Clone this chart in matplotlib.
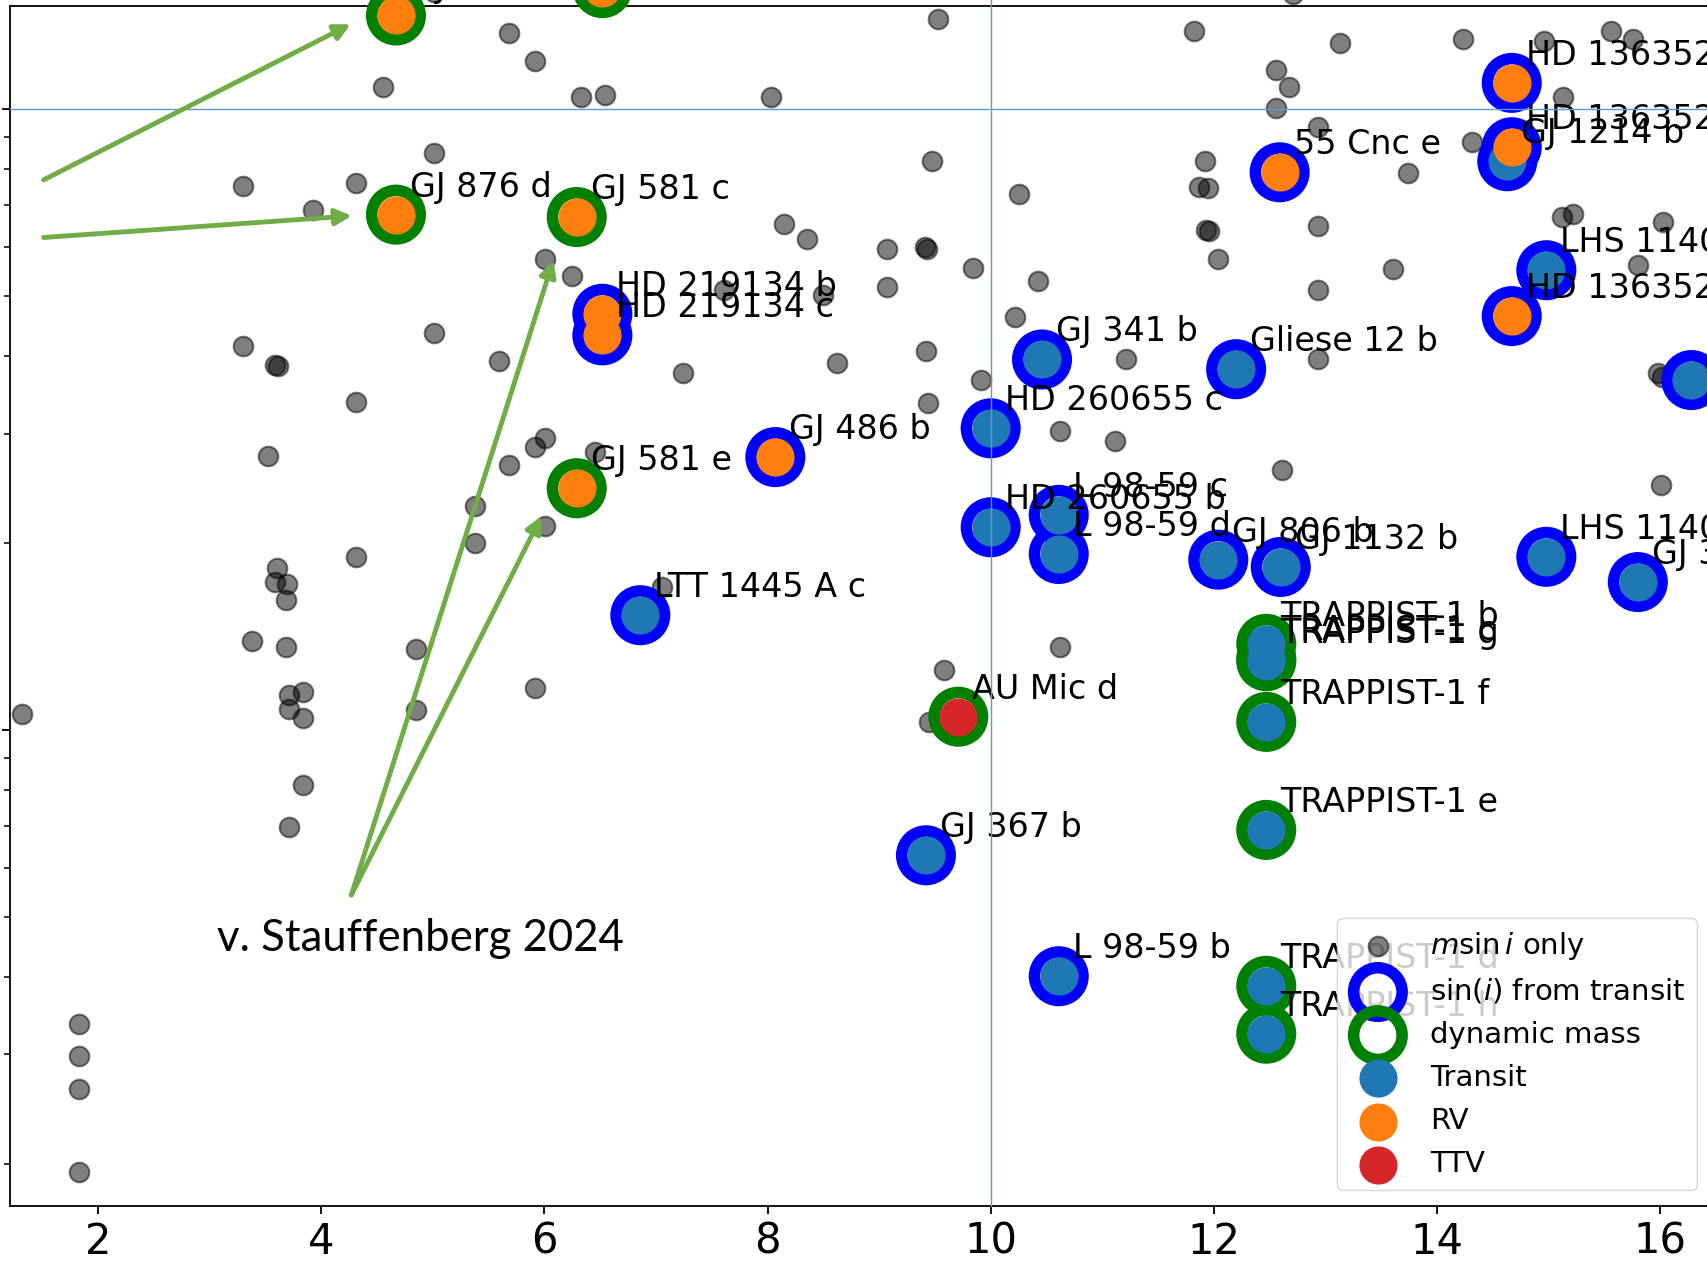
import numpy as np
import matplotlib.pyplot as plt

# planets with only m sin i known: distance [pc], mass [M_earth]
msini_dist = [5.68, 5.92, 4.55, 6.33, 6.54, 8.03, 9.53, 11.82, 13.13, 14.23,
              14.96, 15.56, 15.76, 12.56, 12.67, 12.56, 12.93, 15.13, 12.71, 5.01,
              5.01, 3.30, 4.31, 3.93, 9.47, 10.25, 11.92, 11.87, 11.95, 11.93,
              11.96, 12.04, 12.93, 13.74, 14.31, 15.12, 15.22, 16.03, 15.80, 13.61,
              12.93, 8.15, 8.35, 9.07, 9.41, 9.43, 9.84, 10.42, 9.07, 7.61,
              8.50, 10.22, 6.01, 6.25, 3.30, 3.59, 3.61, 5.01, 5.59, 7.24,
              8.62, 9.42, 11.21, 12.93, 9.91, 9.44, 4.31, 3.52, 5.68, 5.92,
              6.01, 6.45, 10.62, 11.11, 12.61, 16.01, 15.98, 16.02, 5.38, 5.38,
              6.01, 4.31, 3.60, 3.59, 3.69, 3.68, 3.38, 3.68, 4.85, 3.71,
              3.84, 3.71, 3.84, 4.85, 5.92, 9.58, 10.62, 1.32, 3.84, 3.71,
              1.83, 1.83, 1.83, 1.83, 9.45, 7.05]
msini_mass = [13.27, 11.95, 10.84, 10.45, 10.54, 10.45, 13.98, 13.38, 12.79, 12.95,
              12.85, 13.38, 12.95, 11.57, 10.84, 10.04, 9.37, 10.45, 15.35, 15.41,
              8.51, 7.51, 7.60, 6.87, 8.24, 7.30, 8.24, 7.48, 7.45, 6.39,
              6.36, 5.73, 6.49, 7.88, 8.86, 6.70, 6.78, 6.57, 5.61, 5.52,
              5.11, 6.52, 6.18, 5.96, 5.99, 5.94, 5.55, 5.28, 5.16, 5.11,
              5.01, 4.62, 5.73, 5.39, 4.16, 3.87, 3.85, 4.35, 3.93, 3.75,
              3.90, 4.08, 3.95, 3.95, 3.66, 3.36, 3.37, 2.76, 2.67, 2.86,
              2.95, 2.80, 3.03, 2.92, 2.62, 2.48, 3.75, 3.70, 2.29, 2.00,
              2.13, 1.90, 1.82, 1.73, 1.72, 1.62, 1.39, 1.36, 1.35, 1.14,
              1.15, 1.08, 1.045, 1.075, 1.17, 1.25, 1.36, 1.06, 0.814, 0.698,
              0.336, 0.298, 0.264, 0.194, 1.03, 1.70]

# planets with a true mass
names = ['GJ 876 e', 'GJ 581 b', 'GJ 876 d', 'GJ 581 c', 'GJ 581 e',
         'HD 219134 b', 'HD 219134 c', 'GJ 486 b', '55 Cnc e', 'HD 136352 c',
         'HD 136352 d', 'HD 136352 b', 'LTT 1445 A c', 'GJ 341 b', 'Gliese 12 b',
         'HD 260655 c', 'HD 260655 b', 'L 98-59 c', 'L 98-59 d', 'L 98-59 b',
         'GJ 806 b', 'GJ 1132 b', 'GJ 367 b', 'GJ 1214 b', 'LHS 1140 b',
         'LHS 1140 c', 'GJ 3929 b', 'LHS 1478 b', 'AU Mic d', 'TRAPPIST-1 b',
         'TRAPPIST-1 c', 'TRAPPIST-1 g', 'TRAPPIST-1 f', 'TRAPPIST-1 e',
         'TRAPPIST-1 d', 'TRAPPIST-1 h']
dist = [4.67, 6.52, 4.67, 6.29, 6.29, 6.52, 6.52, 8.07, 12.59, 14.67,
        14.67, 14.67, 6.86, 10.46, 12.20, 10.00, 10.00, 10.61, 10.61, 10.61,
        12.04, 12.60, 9.42, 14.63, 14.98, 14.98, 15.80, 16.28, 9.71, 12.47,
        12.47, 12.47, 12.47, 12.47, 12.47, 12.47]
mass = [14.15, 15.66, 6.76, 6.70, 2.45, 4.68, 4.32, 2.75, 7.91, 11.02,
        8.68, 4.64, 1.53, 3.95, 3.81, 3.06, 2.12, 2.22, 1.92, 0.401,
        1.88, 1.83, 0.628, 8.24, 5.50, 1.90, 1.73, 3.66, 1.05, 1.376,
        1.305, 1.29, 1.03, 0.690, 0.387, 0.324]
method = ['RV'] * 12 + ['Transit'] * 16 + ['TTV'] + ['Transit'] * 7
mass_src = ['dynamic'] * 5 + ['transit'] * 23 + ['dynamic'] * 8

# hand-drawn overlay
arrow_from = [(1.512, 7.69), (1.512, 6.21), (4.27, 0.542), (4.27, 0.542)]
arrow_to = [(4.265, 13.7), (4.275, 6.73), (6.081, 5.71), (5.974, 2.21)]
note_text = 'v. Stauffenberg 2024'
note_pos = (3.07, 0.44)

dist = np.array(dist)
mass = np.array(mass)
method = np.array(method)
mass_src = np.array(mass_src)

fig = plt.figure(figsize=(17.08, 12.61), dpi=100)
ax = fig.add_axes([0.0058, 0.0436, 1.0315, 0.952])
ax.set_yscale('log')
ax.set_xlim(1.21, 17)
ax.set_ylim(0.171, 14.68)

ax.scatter(msini_dist, msini_mass, s=200, c='k', alpha=0.5, linewidths=1.5,
           label=r'$m\sin i$ only', zorder=2, clip_on=False)

for src, col, lab in [('transit', 'blue', 'sin($i$) from transit'),
                      ('dynamic', 'green', 'dynamic mass')]:
    sel = mass_src == src
    ax.scatter(dist[sel], mass[sel], s=1220, facecolors='none', edgecolors=col,
               linewidths=8.3, label=lab, zorder=3, clip_on=False)

for m, col in [('Transit', 'C0'), ('RV', 'C1'), ('TTV', 'C3')]:
    sel = method == m
    ax.scatter(dist[sel], mass[sel], s=700, c=col, label=m, zorder=3.5, clip_on=False)

for n, d, m in zip(names, dist, mass):
    ax.annotate(n, (d, m), xytext=(10, 13), textcoords='offset points',
                fontsize=24, zorder=4)

ax.axhline(10, color='#5B9BD5', lw=1, zorder=6)
ax.plot([10, 10], [0.171, 15.2], color='#5B9BD5', lw=1, zorder=6, clip_on=False)

for a, b in zip(arrow_from, arrow_to):
    ax.annotate('', xy=b, xytext=a,
                arrowprops=dict(arrowstyle='-|>', color='#70AD47', lw=3.5,
                                mutation_scale=24, shrinkA=0, shrinkB=0),
                zorder=6, annotation_clip=False)
ax.text(note_pos[0], note_pos[1], note_text, fontsize=31.5,
        family=['Lato', 'DejaVu Sans'], zorder=6)

ax.set_xticks([2, 4, 6, 8, 10, 12, 14, 16])
ax.tick_params(axis='x', labelsize=30, length=6, width=1.3, pad=4.5)
ax.tick_params(axis='y', which='major', length=6, width=1.3, labelleft=False)
ax.tick_params(axis='y', which='minor', length=4, width=1.1, labelleft=False)
for sp in ax.spines.values():
    sp.set_linewidth(1.3)

ax.legend(loc='lower left', bbox_to_anchor=(0.7828, 0.0563),
          bbox_transform=fig.transFigure, fontsize=21, borderaxespad=0,
          labelspacing=0.52, scatterpoints=1)

fig.savefig('out.png', dpi=100)
